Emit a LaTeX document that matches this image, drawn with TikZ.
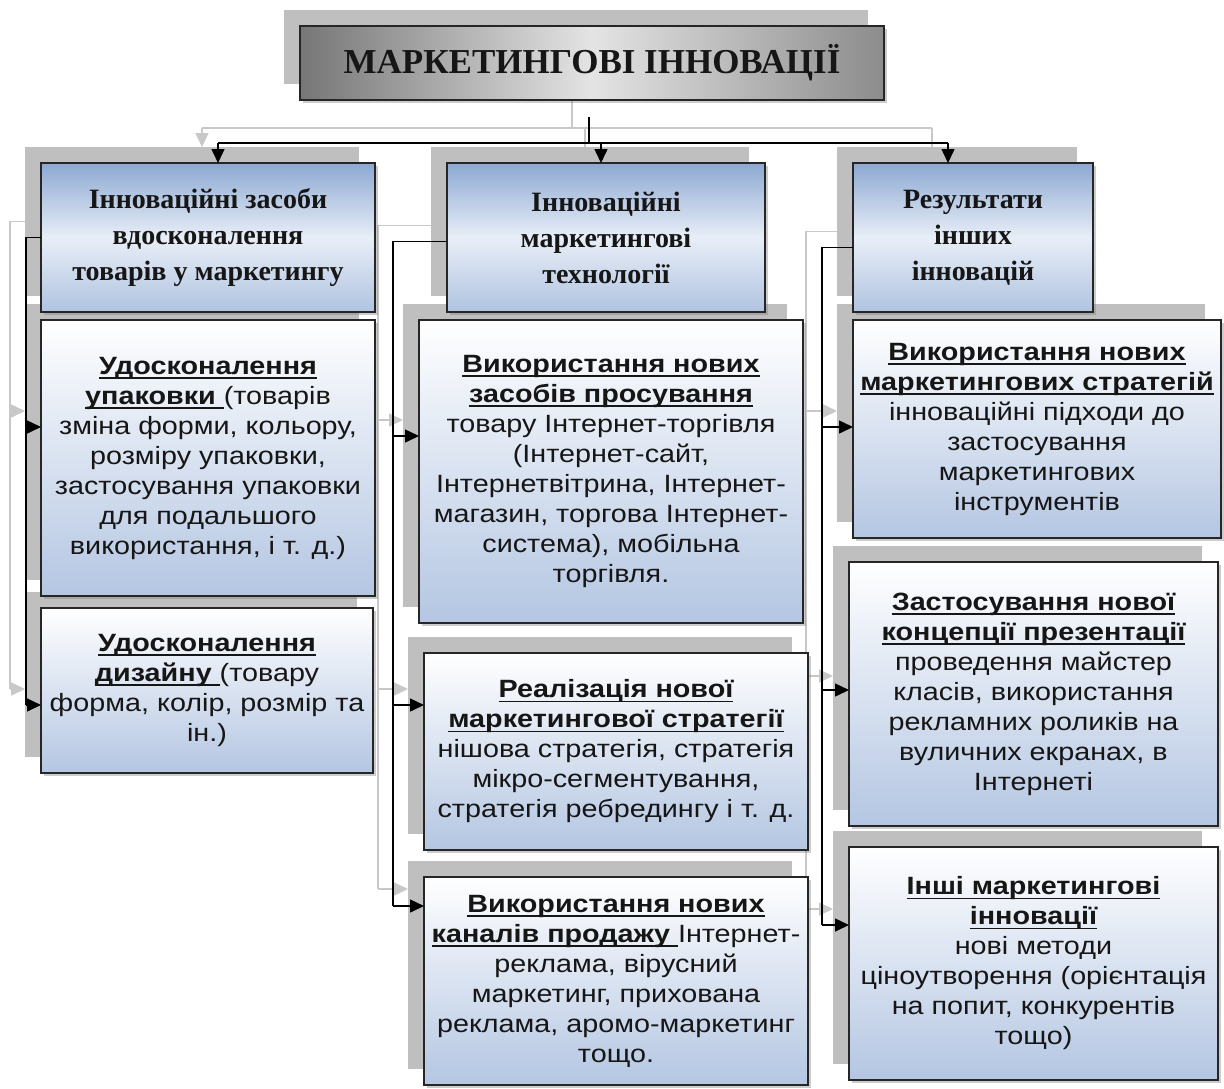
\documentclass[tikz,border=0pt]{standalone}
\usepackage{fontspec}
\setmainfont{Liberation Sans}
\newfontfamily\bodyf[FakeStretch=1.15]{Liberation Sans}
\newfontfamily\headf{Liberation Serif}
\usetikzlibrary{arrows.meta,shadows,calc}
\definecolor{shd}{RGB}{191,191,191}
\definecolor{gl}{RGB}{200,200,200}
\definecolor{bord}{RGB}{38,38,38}
\definecolor{txt}{RGB}{22,22,22}
\definecolor{ht}{RGB}{140,168,210}
\definecolor{hm}{RGB}{232,238,247}
\definecolor{hb}{RGB}{176,195,224}
\definecolor{ib}{RGB}{180,198,226}
\definecolor{tl}{RGB}{118,118,118}
\definecolor{tm}{RGB}{228,228,228}
\definecolor{tr}{RGB}{140,140,140}
\newsavebox\ulsave
\newcommand{\ulx}[1]{\sbox\ulsave{#1}\rlap{\rule[-4.5pt]{\wd\ulsave}{1.7pt}}\usebox\ulsave}
\newcommand{\hd}[1]{\ulx{\bfseries #1}}
\begin{document}
\begin{tikzpicture}[x=1pt,y=-1pt,
 shadowbox/.style={fill=shd,draw=none,anchor=north west,inner sep=0pt,outer sep=0pt},
 wh/.style 2 args={minimum width=#1pt,minimum height=#2pt},
 basebox/.style={draw=bord,line width=1.4pt,anchor=north west,inner sep=0pt,outer sep=0pt,
   align=center,text=txt,drop shadow={shadow xshift=2.5pt,shadow yshift=-2.5pt,opacity=0.4}},
 titlebox/.style={basebox,left color=tl,right color=tr,middle color=tm,
   font=\headf\bfseries\fontsize{35pt}{40pt}\selectfont},
 headbox/.style={basebox,top color=ht,bottom color=hb,middle color=hm,
   font=\headf\bfseries\fontsize{28pt}{36pt}\selectfont},
 itembox/.style={basebox,top color=white,bottom color=ib,
   font=\bodyf\fontsize{25pt}{30pt}\selectfont},
 blk/.style={draw=black,line width=1.5pt},
 blkarr/.style={blk,-{Triangle[length=14pt,width=13pt]}},
 gry/.style={draw=gl,line width=1.5pt},
 gryarr/.style={gry,-{Triangle[length=14pt,width=13pt]}},
]
\fill[white] (0,0) rectangle (1224,1088);
\useasboundingbox (0,0) rectangle (1224,1088);

% ghost (shadow) layer
\node[shadowbox,wh={584}{74}] (sT) at (284,10) {};
\node[shadowbox,wh={334}{149}] (s1) at (25,147) {};
\node[shadowbox,wh={318}{149}] (s2) at (431,147) {};
\node[shadowbox,wh={240}{149}] (s3) at (837,147) {};
\node[shadowbox,wh={334}{276}] (sA1) at (25,304) {};
\node[shadowbox,wh={332}{165}] (sA2) at (25,592) {};
\node[shadowbox,wh={384}{303}] (sB1) at (403,304) {};
\node[shadowbox,wh={384}{197}] (sB2) at (408,637) {};
\node[shadowbox,wh={384}{208}] (sB3) at (408,861) {};
\node[shadowbox,wh={368}{218}] (sC1) at (837,304) {};
\node[shadowbox,wh={369}{264}] (sC2) at (833,546) {};
\node[shadowbox,wh={369}{233}] (sC3) at (833,831) {};

% ghost connectors
\coordinate (gt) at ($(sT.south)+(-4,0)$);
\draw[gry] (gt) -- (gt |- 0,128);
\draw[gry] (202,128) -- (932,128);
\draw[gryarr] (202,128) -- (s1.north -| 202,0);
\draw[gry] (585,128) -- (s2.north -| 585,0);
\draw[gry] (932,128) -- (s3.north -| 932,0);
\coordinate (g1) at ($(s1.west)+(-15,0)$);
\draw[gry] (s1.west) -- (g1) -- (g1 |- 0,689);
\draw[gryarr] (g1 |- 0,411) -- (sA1.west |- 0,411);
\draw[gryarr] (g1 |- 0,689) -- (sA2.west |- 0,689);
\coordinate (g2) at ($(s2.west)+(-53,4)$);
\draw[gry] ($(s2.west)+(0,4)$) -- (g2) -- (g2 |- 0,889);
\draw[gryarr] (g2 |- 0,420) -- (sB1.west |- 0,420);
\draw[gryarr] (g2 |- 0,689) -- (sB2.west |- 0,689);
\draw[gryarr] (g2 |- 0,889) -- (sB3.west |- 0,889);
\coordinate (g3) at ($(s3.west)+(-31,10)$);
\draw[gry] ($(s3.west)+(0,10)$) -- (g3) -- (g3 |- 0,909);
\draw[gryarr] (g3 |- 0,411) -- (sC1.west |- 0,411);
\draw[gryarr] (g3 |- 0,676) -- (sC2.west |- 0,676);
\draw[gryarr] (g3 |- 0,909) -- (sC3.west |- 0,909);

% main boxes
\node[titlebox,wh={584}{74}] (T) at (300,26) {МАРКЕТИНГОВІ ІННОВАЦІЇ};
\node[headbox,wh={334}{149}] (L1) at (41,163) {Інноваційні засоби\\вдосконалення\\товарів у маркетингу};
\node[headbox,wh={318}{149}] (L2) at (447,163) {Інноваційні\\маркетингові\\технології};
\node[headbox,wh={240}{149}] (L3) at (853,163) {Результати\\інших\\інновацій};

\node[itembox,wh={334}{276}] (A1) at (41,320) {\hd{Удосконалення}\\\hd{упаковки\ }(товарів\\зміна форми, кольору,\\розміру упаковки,\\застосування упаковки\\для подальшого\\використання, і т. д.)};
\node[itembox,wh={332}{165}] (A2) at (41,608) {\hd{Удосконалення}\\\hd{дизайну\ }(товару\\форма, колір, розмір та\\ін.)};
\node[itembox,wh={384}{303}] (B1) at (419,320) {\hd{Використання нових}\\\hd{засобів просування}\\товару Інтернет-торгівля\\(Інтернет-сайт,\\Інтернетвітрина, Інтернет-\\магазин, торгова Інтернет-\\система), мобільна\\торгівля.};
\node[itembox,wh={384}{197}] (B2) at (424,653) {\hd{Реалізація нової}\\\hd{маркетингової стратегії}\\нішова стратегія, стратегія\\мікро-сегментування,\\стратегія ребредингу і т. д.};
\node[itembox,wh={384}{208}] (B3) at (424,877) {\hd{Використання нових}\\\hd{каналів продажу\ }Інтернет-\\реклама, вірусний\\маркетинг, прихована\\реклама, аромо-маркетинг\\тощо.};
\node[itembox,wh={368}{218}] (C1) at (853,320) {\hd{Використання нових}\\\hd{маркетингових стратегій}\\інноваційні підходи до\\застосування\\маркетингових\\інструментів};
\node[itembox,wh={369}{264}] (C2) at (849,562) {\hd{Застосування нової}\\\hd{концепції презентації}\\проведення майстер\\класів, використання\\рекламних роликів на\\вуличних екранах, в\\Інтернеті};
\node[itembox,wh={369}{233}] (C3) at (849,847) {\hd{Інші маркетингові}\\\hd{інновації}\\нові методи\\ціноутворення (орієнтація\\на попит, конкурентів\\тощо)};

% black connectors
\coordinate (tt) at ($(T.south)+(-3,17)$);
\draw[blk] (tt) -- (tt |- 0,143);
\draw[blk] (218,143) -- (948,143);
\draw[blkarr] (218,143) -- (L1.north -| 218,0);
\draw[blkarr] (601,143) -- (L2.north -| 601,0);
\draw[blkarr] (948,143) -- (L3.north -| 948,0);

\coordinate (j1) at ($(L1.west)+(-15,0)$);
\draw[blk] (L1.west) -- (j1) -- (j1 |- 0,705);
\draw[blkarr] (j1 |- 0,427) -- (A1.west |- 0,427);
\draw[blkarr] (j1 |- 0,705) -- (A2.west |- 0,705);

\coordinate (j2) at ($(L2.west)+(-54,4)$);
\draw[blk] ($(L2.west)+(0,4)$) -- (j2) -- (j2 |- 0,906);
\draw[blkarr] (j2 |- 0,436) -- (B1.west |- 0,436);
\draw[blkarr] (j2 |- 0,705) -- (B2.west |- 0,705);
\draw[blkarr] (j2 |- 0,906) -- (B3.west |- 0,906);

\coordinate (j3) at ($(L3.west)+(-31,10)$);
\draw[blk] ($(L3.west)+(0,10)$) -- (j3) -- (j3 |- 0,925);
\draw[blkarr] (j3 |- 0,427) -- (C1.west |- 0,427);
\draw[blkarr] (j3 |- 0,690) -- (C2.west |- 0,690);
\draw[blkarr] (j3 |- 0,925) -- (C3.west |- 0,925);
\end{tikzpicture}
\end{document}
